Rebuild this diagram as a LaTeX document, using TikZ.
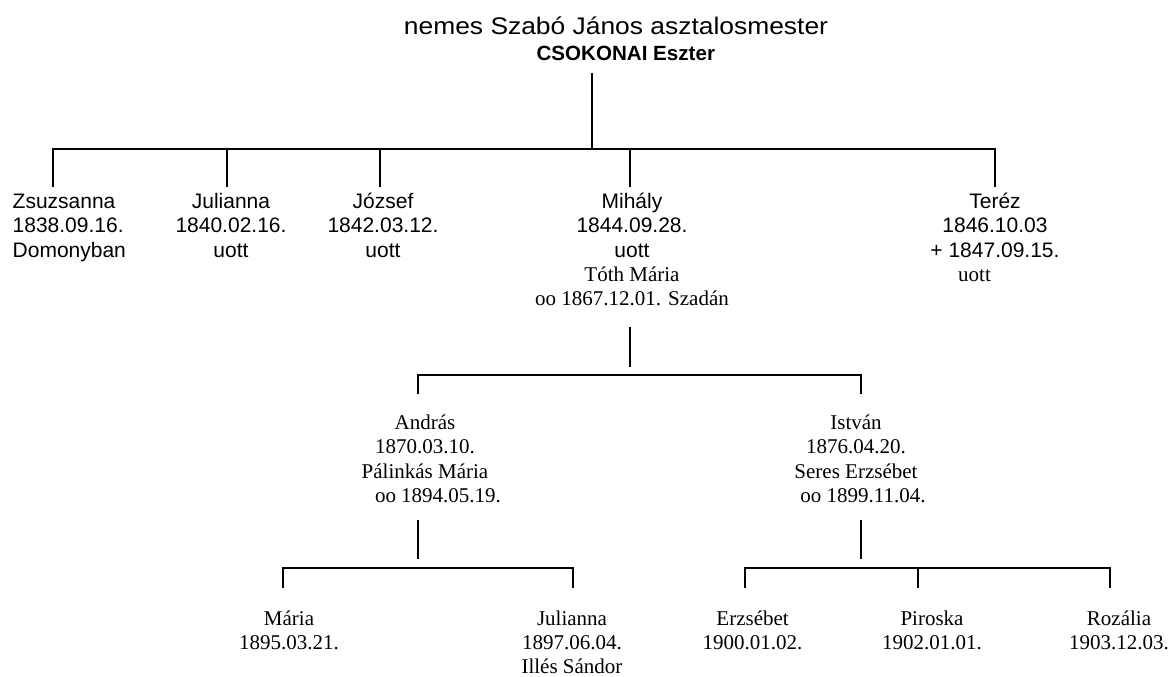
\documentclass[tikz,border=0pt]{standalone}
\usepackage{graphicx}
\usepackage{fontspec}
\setmainfont{Liberation Serif}
\setsansfont{Liberation Sans}
\newcommand{\famrows}[2][c]{\begin{tabular}[t]{@{}#1@{}}#2\end{tabular}}
\newcommand{\ssz}{\sffamily\fontsize{21}{24.4}\selectfont}
\newcommand{\rmz}{\rmfamily\fontsize{21}{24.4}\selectfont}
\begin{document}
\begin{tikzpicture}[x=1pt,y=-1pt,
  every node/.style={inner sep=0pt,outer sep=0pt},
  person/.style={anchor=base,font=\ssz},
  serifperson/.style={anchor=base,font=\rmz},
  tree/.style={line width=1.8pt,line join=miter}]
\useasboundingbox[fill=white] (0,0) rectangle (1176,677);

% parents
\node[anchor=base] (title) at (616,35) {\sffamily\fontsize{24}{28}\selectfont\scalebox{1.1}[1]{nemes Szabó János asztalosmester}};
\node[anchor=base] (wife) at (625.8,61) {\sffamily\bfseries\fontsize{20.6}{24}\selectfont CSOKONAI Eszter};

% generation 1
\node[person,anchor=base west] (zsuzsanna) at (12.7,208.3) {\famrows[l]{Zsuzsanna\\1838.09.16.\\Domonyban}};
\node[person] (julianna) at (231,208.3) {\famrows{Julianna\\1840.02.16.\\uott}};
\node[person] (jozsef) at (383,208.3) {\famrows{József\\1842.03.12.\\uott}};
\node[person] (mihaly) at (632,208.3) {\famrows{Mihály\\1844.09.28.\\uott\\{\rmz Tóth Mária}\\{\rmz oo 1867.12.01. Szadán}}};
\node[person] (terez) at (995,208.3) {\famrows{Teréz\\1846.10.03\\+ 1847.09.15.\\{\rmz uott}\hspace*{41pt}}};

% generation 2
\node[serifperson] (andras) at (425,429.3) {\famrows{András\\1870.03.10.\\Pálinkás Mária\\\hspace*{26pt}oo 1894.05.19.}};
\node[serifperson] (istvan) at (856,429.3) {\famrows{István\\1876.04.20.\\Seres Erzsébet\\\hspace*{14pt}oo 1899.11.04.}};

% generation 3
\node[serifperson] (maria) at (289,625) {\famrows{Mária\\1895.03.21.}};
\node[serifperson] (julianna2) at (572,625) {\famrows{Julianna\\1897.06.04.\\Illés Sándor}};
\node[serifperson] (erzsebet) at (752.6,625) {\famrows{Erzsébet\\1900.01.02.}};
\node[serifperson] (piroska) at (932,625) {\famrows{Piroska\\1902.01.01.}};
\node[serifperson] (rozalia) at (1119,625) {\famrows{Rozália\\1903.12.03.}};

% connectors, level 1
\coordinate (r0) at (591.7,72.7);
\coordinate (r1) at (591.7,149);
\coordinate (hL) at (53.3,149);
\coordinate (hR) at (995,149);
\coordinate (g1) at (53.3,187.3);
\coordinate (g2t) at (226.7,149);
\coordinate (g2) at (226.7,187.3);
\coordinate (g3t) at (380,149);
\coordinate (g3) at (380,187.3);
\coordinate (g4t) at (630,149);
\coordinate (g4) at (630,187.3);
\coordinate (g5) at (995,187.3);
\draw[tree] (r0) -- (r1);
\draw[tree] (g1) -- (hL) -- (hR) -- (g5);
\draw[tree] (g2t) -- (g2);
\draw[tree] (g3t) -- (g3);
\draw[tree] (g4t) -- (g4);

% connectors, level 2
\coordinate (m0) at (629.7,327.3);
\coordinate (m1) at (629.7,367.3);
\coordinate (a0) at (418.3,394.3);
\coordinate (aL) at (418.3,375);
\coordinate (aR) at (860.7,375);
\coordinate (a1) at (860.7,394.3);
\draw[tree] (m0) -- (m1);
\draw[tree] (a0) -- (aL) -- (aR) -- (a1);

% connectors, level 3 (András)
\coordinate (an0) at (418.3,520);
\coordinate (an1) at (418.3,559.3);
\coordinate (b0) at (283.3,587.7);
\coordinate (bL) at (283.3,568.3);
\coordinate (bR) at (572.7,568.3);
\coordinate (b1) at (572.7,587.7);
\draw[tree] (an0) -- (an1);
\draw[tree] (b0) -- (bL) -- (bR) -- (b1);

% connectors, level 3 (István)
\coordinate (is0) at (860.7,520);
\coordinate (is1) at (860.7,559.3);
\coordinate (c0) at (745,587.7);
\coordinate (cL) at (745,568.3);
\coordinate (cR) at (1110,568.3);
\coordinate (c1) at (1110,587.7);
\coordinate (cM0) at (917.7,568.3);
\coordinate (cM1) at (917.7,587.7);
\draw[tree] (is0) -- (is1);
\draw[tree] (c0) -- (cL) -- (cR) -- (c1);
\draw[tree] (cM0) -- (cM1);
\end{tikzpicture}
\end{document}
